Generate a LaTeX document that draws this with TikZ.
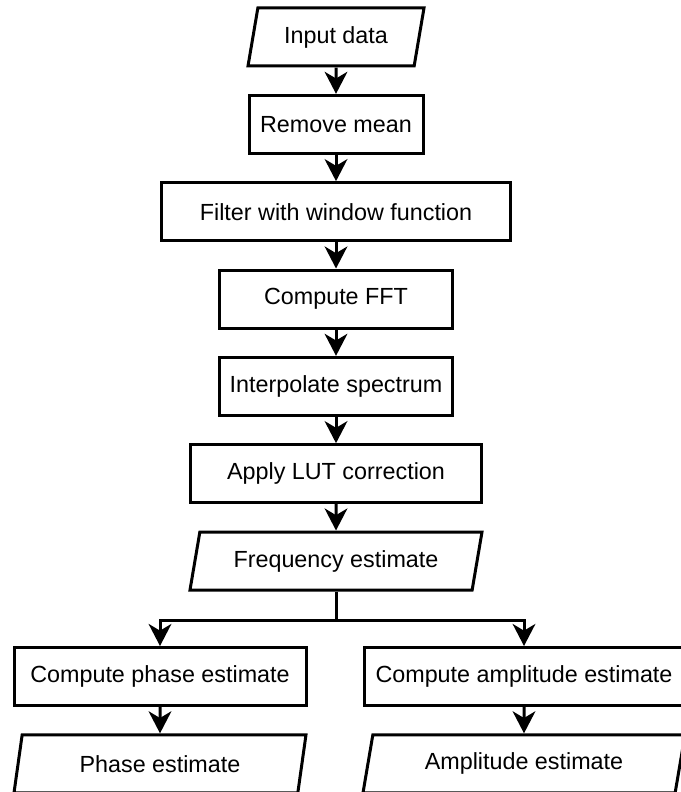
\documentclass[tikz,border=0pt]{standalone}
\usepackage{fontspec}
\setmainfont{Liberation Sans}
\usepackage{tikz}
\usetikzlibrary{
arrows.meta,
positioning,
shapes.geometric
}
\tikzset{
flowbox/.style={draw=black, fill=white, line width=2.25pt, align=center,
  minimum height=43.5pt, inner sep=2pt, font=\fontsize{17.5}{20}\selectfont},
flowio/.style={flowbox, trapezium, trapezium left angle=70, trapezium right angle=110,
  trapezium stretches body},
flowarrow/.style={-{Stealth[length=16.5pt, width=17pt, inset=5pt]}, line width=2.25pt, draw=black},
flowline/.style={line width=2.25pt, draw=black}
}

\begin{document}
\begin{tikzpicture}[x=0.75pt, y=-0.75pt, node distance=19.75pt and 19.75pt]
\useasboundingbox (0,0) rectangle (681,792);

\node[flowio, minimum width=132pt] (input) at (336,37) {Input data};
\node[flowbox, minimum width=130.5pt, below=of input] (mean) {Remove mean};
\node[flowbox, minimum width=262pt, below=of mean] (window) {Filter with window function};
\node[flowbox, minimum width=175pt, below=of window] (fft) {Compute FFT};
\node[flowbox, minimum width=175pt, below=of fft] (interp) {Interpolate spectrum};
\node[flowbox, minimum width=218pt, below=of interp] (lut) {Apply LUT correction};
\node[flowio, minimum width=219pt, below=of lut] (freq) {Frequency estimate};

\node[flowbox, minimum width=219pt] (phase) at (160,676.5) {Compute phase estimate};
\node[flowbox, minimum width=240pt] (ampl) at (524,676.5) {Compute amplitude estimate};
\node[flowio, minimum width=219pt, below=of phase] (phaseout) {Phase estimate};
\node[flowio, minimum width=241.5pt, below=of ampl] (amplout) {Amplitude estimate};

\coordinate (split) at ([yshift=-22pt]freq.south);

\draw[flowarrow] (input) -- (mean);
\draw[flowarrow] (mean) -- (window);
\draw[flowarrow] (window) -- (fft);
\draw[flowarrow] (fft) -- (interp);
\draw[flowarrow] (interp) -- (lut);
\draw[flowarrow] (lut) -- (freq);

\draw[flowline] (freq.south) -- (split);
\draw[flowarrow] (split) -| (phase.north);
\draw[flowarrow] (split) -| (ampl.north);

\draw[flowarrow] (phase) -- (phaseout);
\draw[flowarrow] (ampl) -- (amplout);
\end{tikzpicture}
\end{document}
